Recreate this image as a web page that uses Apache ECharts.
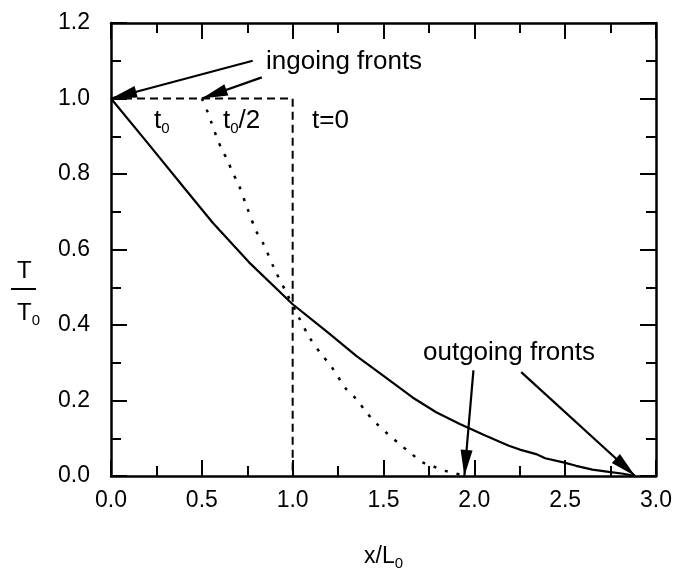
<!DOCTYPE html>
<html>
<head>
<meta charset="utf-8">
<script src="https://cdn.jsdelivr.net/npm/echarts@6/dist/echarts.min.js"></script>
<style>
  html, body { margin: 0; padding: 0; background: #fff; }
  #chart { width: 675px; height: 576px; }
</style>
</head>
<body>
<div id="chart"></div>
<script>
// Temperature profiles T/T0 versus x/L0 at three times.

// t = 0 : initial step profile
const stepX = [0, 1.0, 1.0];
const stepY = [1.0, 1.0, 0.0];

// t = t0/2 : dotted profile
const halfX = [0.5, 0.533, 0.553, 0.58, 0.61, 0.64, 0.67, 0.70, 0.75, 0.80, 0.84, 0.90, 0.965, 1.03,
  1.093, 1.157, 1.21, 1.295, 1.35, 1.405, 1.46, 1.524, 1.588, 1.643, 1.716, 1.771, 1.835, 1.89, 1.945];
const halfY = [1.0, 0.963, 0.936, 0.90, 0.865, 0.838, 0.803, 0.775, 0.71, 0.648, 0.614, 0.548, 0.486, 0.424,
  0.367, 0.323, 0.292, 0.230, 0.204, 0.169, 0.140, 0.111, 0.085, 0.063, 0.036, 0.026, 0.014, 0.008, 0.0];

// t = t0 : solid profile
const fullX = [0, 0.2, 0.4, 0.56, 0.76, 1.0, 1.2, 1.35, 1.5, 1.66, 1.79, 1.92, 2.06, 2.19, 2.25,
  2.34, 2.39, 2.49, 2.56, 2.65, 2.74, 2.82, 2.885];
const fullY = [1.0, 0.883, 0.765, 0.671, 0.566, 0.455, 0.378, 0.318, 0.265, 0.208, 0.169, 0.138, 0.107,
  0.080, 0.070, 0.058, 0.047, 0.036, 0.027, 0.017, 0.011, 0.006, 0.0];

// Arrows: [start x, start y, tip x, tip y] in axis units
const ingoingArrows = [
  [0.78, 1.10, 0.0, 1.0],
  [0.83, 1.056, 0.5, 1.0]
];
const outgoingArrows = [
  [1.995, 0.28, 1.945, 0.0],
  [2.258, 0.275, 2.885, 0.0]
];

const xTicks = { min: 0, max: 3, step: 0.5 };
const yTicks = { min: 0, max: 1.2, step: 0.2 };

const zip = (xs, ys) => xs.map((x, i) => [x, ys[i]]);
const FONT = "'Liberation Sans', Arial, sans-serif";

const chart = echarts.init(document.getElementById('chart'), null, { renderer: 'canvas' });

function axisCommon(showLabels) {
  return {
    axisLine: { show: true, onZero: false, lineStyle: { color: '#000', width: 2.5 } },
    axisTick: { show: true, inside: true, length: 16, lineStyle: { color: '#000', width: 2 } },
    minorTick: { show: true, splitNumber: 2, length: 10, lineStyle: { color: '#000', width: 2 } },
    splitLine: { show: false },
    axisLabel: { show: showLabels, color: '#000', fontSize: 23, fontFamily: FONT },
  };
}

const arrowLine = (list) => list.map(a => [
  { coord: [a[0], a[1]] },
  { coord: [a[2], a[3]] }
]);

const sub = { font: `15px ${FONT}`, fill: '#000', padding: [15, 0, 0, 0] };
const big = { font: `26px ${FONT}`, fill: '#000' };

chart.setOption({
  animation: false,
  backgroundColor: '#fff',
  grid: { left: 111, right: 18, top: 23, bottom: 99, containLabel: false },
  xAxis: [
    Object.assign(axisCommon(true), {
      type: 'value', position: 'bottom', min: xTicks.min, max: xTicks.max, interval: xTicks.step,
      axisLabel: { show: true, color: '#000', fontSize: 23, fontFamily: FONT, margin: 13,
        formatter: v => v.toFixed(1) },
      name: '{a|x/L}{s|0}', nameLocation: 'middle', nameGap: 66,
      nameTextStyle: { rich: {
        a: { fontSize: 23, fontFamily: FONT, color: '#000' },
        s: { fontSize: 15, fontFamily: FONT, color: '#000', verticalAlign: 'bottom', padding: [14, 0, 0, 0] }
      } }
    }),
    Object.assign(axisCommon(false), {
      type: 'value', position: 'top', min: xTicks.min, max: xTicks.max, interval: xTicks.step
    })
  ],
  yAxis: [
    Object.assign(axisCommon(true), {
      type: 'value', position: 'left', min: yTicks.min, max: yTicks.max, interval: yTicks.step,
      axisLabel: { show: true, color: '#000', fontSize: 23, fontFamily: FONT, margin: 21,
        formatter: v => v.toFixed(1) }
    }),
    Object.assign(axisCommon(false), {
      type: 'value', position: 'right', min: yTicks.min, max: yTicks.max, interval: yTicks.step
    })
  ],
  series: [
    {
      name: 't=0', type: 'line', data: zip(stepX, stepY), showSymbol: false, symbol: 'none',
      lineStyle: { color: '#000', width: 2, type: [8, 5] }
    },
    {
      name: 't0/2', type: 'line', data: zip(halfX, halfY), showSymbol: false, symbol: 'none', smooth: 0.3,
      lineStyle: { color: '#000', width: 2.5, type: [3, 9] }
    },
    {
      name: 't0', type: 'line', data: zip(fullX, fullY), showSymbol: false, symbol: 'none',
      lineStyle: { color: '#000', width: 2.2 },
      markLine: {
        silent: true, animation: false,
        symbol: ['none', 'triangle'], symbolSize: [12, 26], symbolOffset: [0, [0, '50%']],
        lineStyle: { color: '#000', width: 2.2, type: 'solid' },
        itemStyle: { color: '#000' },
        label: { show: false },
        data: arrowLine(ingoingArrows.concat(outgoingArrows))
      }
    }
  ],
  graphic: [
    // annotation texts
    { type: 'text', left: 266, top: 49, style: { text: 'ingoing fronts', font: `26px ${FONT}`, fill: '#000' } },
    { type: 'text', left: 423, top: 340, style: { text: 'outgoing fronts', font: `26px ${FONT}`, fill: '#000' } },
    { type: 'text', left: 154, top: 108, style: { text: '{a|t}{s|0}', rich: { a: big, s: sub } } },
    { type: 'text', left: 223, top: 108, style: { text: '{a|t}{s|0}{a|/2}', rich: { a: big, s: sub } } },
    { type: 'text', left: 312, top: 108, style: { text: 't=0', font: `26px ${FONT}`, fill: '#000' } },
    // y-axis title as a fraction T / T0
    { type: 'text', left: 17, top: 259, style: { text: 'T', font: `24px ${FONT}`, fill: '#000' } },
    { type: 'line', shape: { x1: 11, y1: 289, x2: 36, y2: 289 }, style: { stroke: '#000', lineWidth: 2 } },
    { type: 'text', left: 17, top: 301, style: { text: '{a|T}{s|0}', rich: {
      a: { font: `24px ${FONT}`, fill: '#000' }, s: sub } } }
  ]
});
</script>
</body>
</html>
